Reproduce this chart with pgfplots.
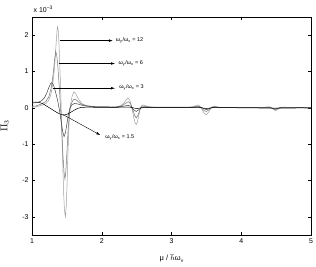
\documentclass[border=0pt]{standalone}
\usepackage{pgfplots}
\pgfplotsset{compat=1.18}
\usepackage{fontspec}
\setmainfont{Liberation Sans}
\usetikzlibrary{arrows.meta}
\begin{document}
\begin{tikzpicture}
\begin{axis}[
  scale only axis,
  width=279bp, height=218bp,
  xmin=1, xmax=5, ymin=-3.5, ymax=2.5,
  xtick={1,2,3,4,5}, ytick={-3,-2,-1,0,1,2},
  tick align=inside, tickpos=both,
  major tick length=3bp,
  axis line style={line width=0.5pt},
  tick style={line width=0.4pt, black},
  ticklabel style={font=\fontsize{7}{8}\selectfont},
  /pgf/number format/assume math mode=true,
  xlabel={\fontsize{7.5}{9}\selectfont μ / $\hbar$ω\raisebox{-0.4ex}{\fontsize{5}{6}\selectfont v}},
  ylabel={\fontsize{10}{12}\selectfont $\Pi_3$},
  xlabel style={at={(rel axis cs:0.5,-0.075)}, anchor=north},
  ylabel style={at={(rel axis cs:-0.07,0.5)}, anchor=south},
  clip mode=individual,
]
\addplot[gray!75, line width=0.5pt] coordinates {
(1.0,0.02)(1.05,0.03)(1.1,0.05)(1.15,0.08)(1.2,0.12)(1.23,0.18)(1.26,0.3)(1.28,0.45)(1.30,0.7)(1.32,1.05)(1.335,1.45)(1.35,1.9)(1.36,2.15)(1.367,2.23)(1.375,2.15)(1.385,1.85)(1.395,1.4)(1.405,0.85)(1.415,0.25)(1.425,-0.45)(1.435,-1.15)(1.445,-1.8)(1.455,-2.4)(1.465,-2.8)(1.478,-3.0)(1.49,-2.75)(1.50,-2.25)(1.51,-1.6)(1.52,-1.0)(1.53,-0.5)(1.54,-0.15)(1.555,0.12)(1.575,0.32)(1.60,0.44)(1.625,0.4)(1.65,0.3)(1.68,0.2)(1.72,0.11)(1.78,0.06)(1.9,0.03)(2.1,0.02)(2.22,0.03)(2.28,0.07)(2.32,0.14)(2.35,0.22)(2.376,0.28)(2.40,0.22)(2.42,0.1)(2.44,-0.08)(2.46,-0.28)(2.48,-0.42)(2.495,-0.46)(2.51,-0.4)(2.53,-0.22)(2.55,-0.03)(2.57,0.06)(2.59,0.08)(2.62,0.06)(2.68,0.03)(2.8,0.01)(3.2,0.01)(3.3,0.03)(3.35,0.06)(3.38,0.08)(3.41,0.04)(3.44,-0.06)(3.47,-0.15)(3.50,-0.19)(3.53,-0.12)(3.56,-0.02)(3.59,0.03)(3.62,0.04)(3.67,0.02)(3.75,0.01)(4.3,0.01)(4.38,0.03)(4.42,0.02)(4.46,-0.04)(4.49,-0.08)(4.52,-0.05)(4.55,0.0)(4.6,0.02)(4.7,0.01)(5.0,0.0)
};
\addplot[gray!90!black, line width=0.5pt] coordinates {
(1.0,0.04)(1.05,0.05)(1.1,0.08)(1.15,0.12)(1.2,0.18)(1.24,0.3)(1.27,0.5)(1.29,0.72)(1.31,1.05)(1.325,1.35)(1.34,1.55)(1.355,1.45)(1.37,1.15)(1.385,0.75)(1.40,0.3)(1.415,-0.2)(1.43,-0.75)(1.445,-1.35)(1.46,-1.8)(1.472,-1.96)(1.485,-1.75)(1.50,-1.25)(1.515,-0.7)(1.53,-0.3)(1.545,-0.02)(1.565,0.12)(1.59,0.21)(1.61,0.24)(1.64,0.21)(1.68,0.14)(1.72,0.09)(1.8,0.05)(1.9,0.03)(2.2,0.02)(2.28,0.05)(2.33,0.11)(2.38,0.17)(2.41,0.12)(2.44,-0.02)(2.47,-0.2)(2.495,-0.28)(2.52,-0.2)(2.55,-0.04)(2.58,0.05)(2.62,0.04)(2.7,0.02)(3.3,0.02)(3.36,0.04)(3.39,0.05)(3.43,0.0)(3.47,-0.08)(3.50,-0.1)(3.54,-0.05)(3.58,0.02)(3.62,0.03)(3.7,0.01)(4.35,0.01)(4.41,0.02)(4.46,-0.03)(4.49,-0.05)(4.53,-0.02)(4.58,0.01)(5.0,0.0)
};
\addplot[black!75, line width=0.5pt] coordinates {
(1.0,0.13)(1.05,0.14)(1.1,0.16)(1.14,0.2)(1.18,0.28)(1.21,0.4)(1.24,0.55)(1.265,0.66)(1.28,0.69)(1.30,0.66)(1.32,0.56)(1.345,0.38)(1.37,0.18)(1.395,-0.08)(1.42,-0.4)(1.44,-0.65)(1.46,-0.79)(1.48,-0.68)(1.50,-0.45)(1.52,-0.2)(1.545,0.0)(1.57,0.08)(1.61,0.12)(1.65,0.11)(1.7,0.08)(1.78,0.05)(1.9,0.03)(2.2,0.02)(2.3,0.04)(2.38,0.07)(2.42,0.04)(2.46,-0.06)(2.495,-0.1)(2.53,-0.05)(2.58,0.02)(2.7,0.01)(3.3,0.01)(3.38,0.03)(3.44,0.0)(3.5,-0.05)(3.56,-0.01)(3.62,0.02)(3.7,0.01)(4.4,0.01)(4.49,-0.03)(4.56,0.01)(5.0,0.0)
};
\addplot[black, line width=0.5pt] coordinates {
(1.0,0.16)(1.05,0.16)(1.1,0.15)(1.15,0.12)(1.2,0.06)(1.25,0.0)(1.3,-0.06)(1.35,-0.12)(1.4,-0.17)(1.45,-0.2)(1.5,-0.18)(1.55,-0.13)(1.6,-0.07)(1.65,-0.02)(1.7,0.01)(1.8,0.02)(2.0,0.01)(2.4,0.02)(2.5,-0.02)(2.6,0.01)(3.4,0.01)(3.5,-0.02)(3.6,0.01)(4.5,-0.01)(5.0,0.0)
};
\draw[-{Latex[length=4bp,width=2.5bp]}, line width=0.4pt] (axis cs:1.40,1.85) -- (axis cs:2.16,1.85);
\draw[-{Latex[length=4bp,width=2.5bp]}, line width=0.4pt] (axis cs:1.39,1.22) -- (axis cs:2.19,1.22);
\draw[-{Latex[length=4bp,width=2.5bp]}, line width=0.4pt] (axis cs:1.30,0.54) -- (axis cs:2.19,0.54);
\draw[-{Latex[length=4bp,width=2.5bp]}, line width=0.4pt] (axis cs:1.44,-0.18) -- (axis cs:1.98,-0.75);
\node[anchor=west, inner sep=0pt, font=\fontsize{5.5}{6}\selectfont] at (axis cs:2.2,1.85) {ω\textsubscript{y}/ω\textsubscript{x} = 12};
\node[anchor=west, inner sep=0pt, font=\fontsize{5.5}{6}\selectfont] at (axis cs:2.24,1.22) {ω\textsubscript{y}/ω\textsubscript{x} = 6};
\node[anchor=west, inner sep=0pt, font=\fontsize{5.5}{6}\selectfont] at (axis cs:2.25,0.56) {ω\textsubscript{y}/ω\textsubscript{x} = 3};
\node[anchor=west, inner sep=0pt, font=\fontsize{5.5}{6}\selectfont] at (axis cs:2.05,-0.82) {ω\textsubscript{y}/ω\textsubscript{x} = 1.5};
\node[anchor=south west, inner sep=0pt, font=\fontsize{7}{8}\selectfont] at (rel axis cs:0.005,1.02) {x 10\textsuperscript{−3}};
\coordinate (bl) at (rel axis cs:-0.1147,-0.1422);
\coordinate (tr) at (rel axis cs:1.0179,1.078);
\end{axis}
\pgfresetboundingbox
\path[use as bounding box] (bl) rectangle (tr);
\end{tikzpicture}
\end{document}
